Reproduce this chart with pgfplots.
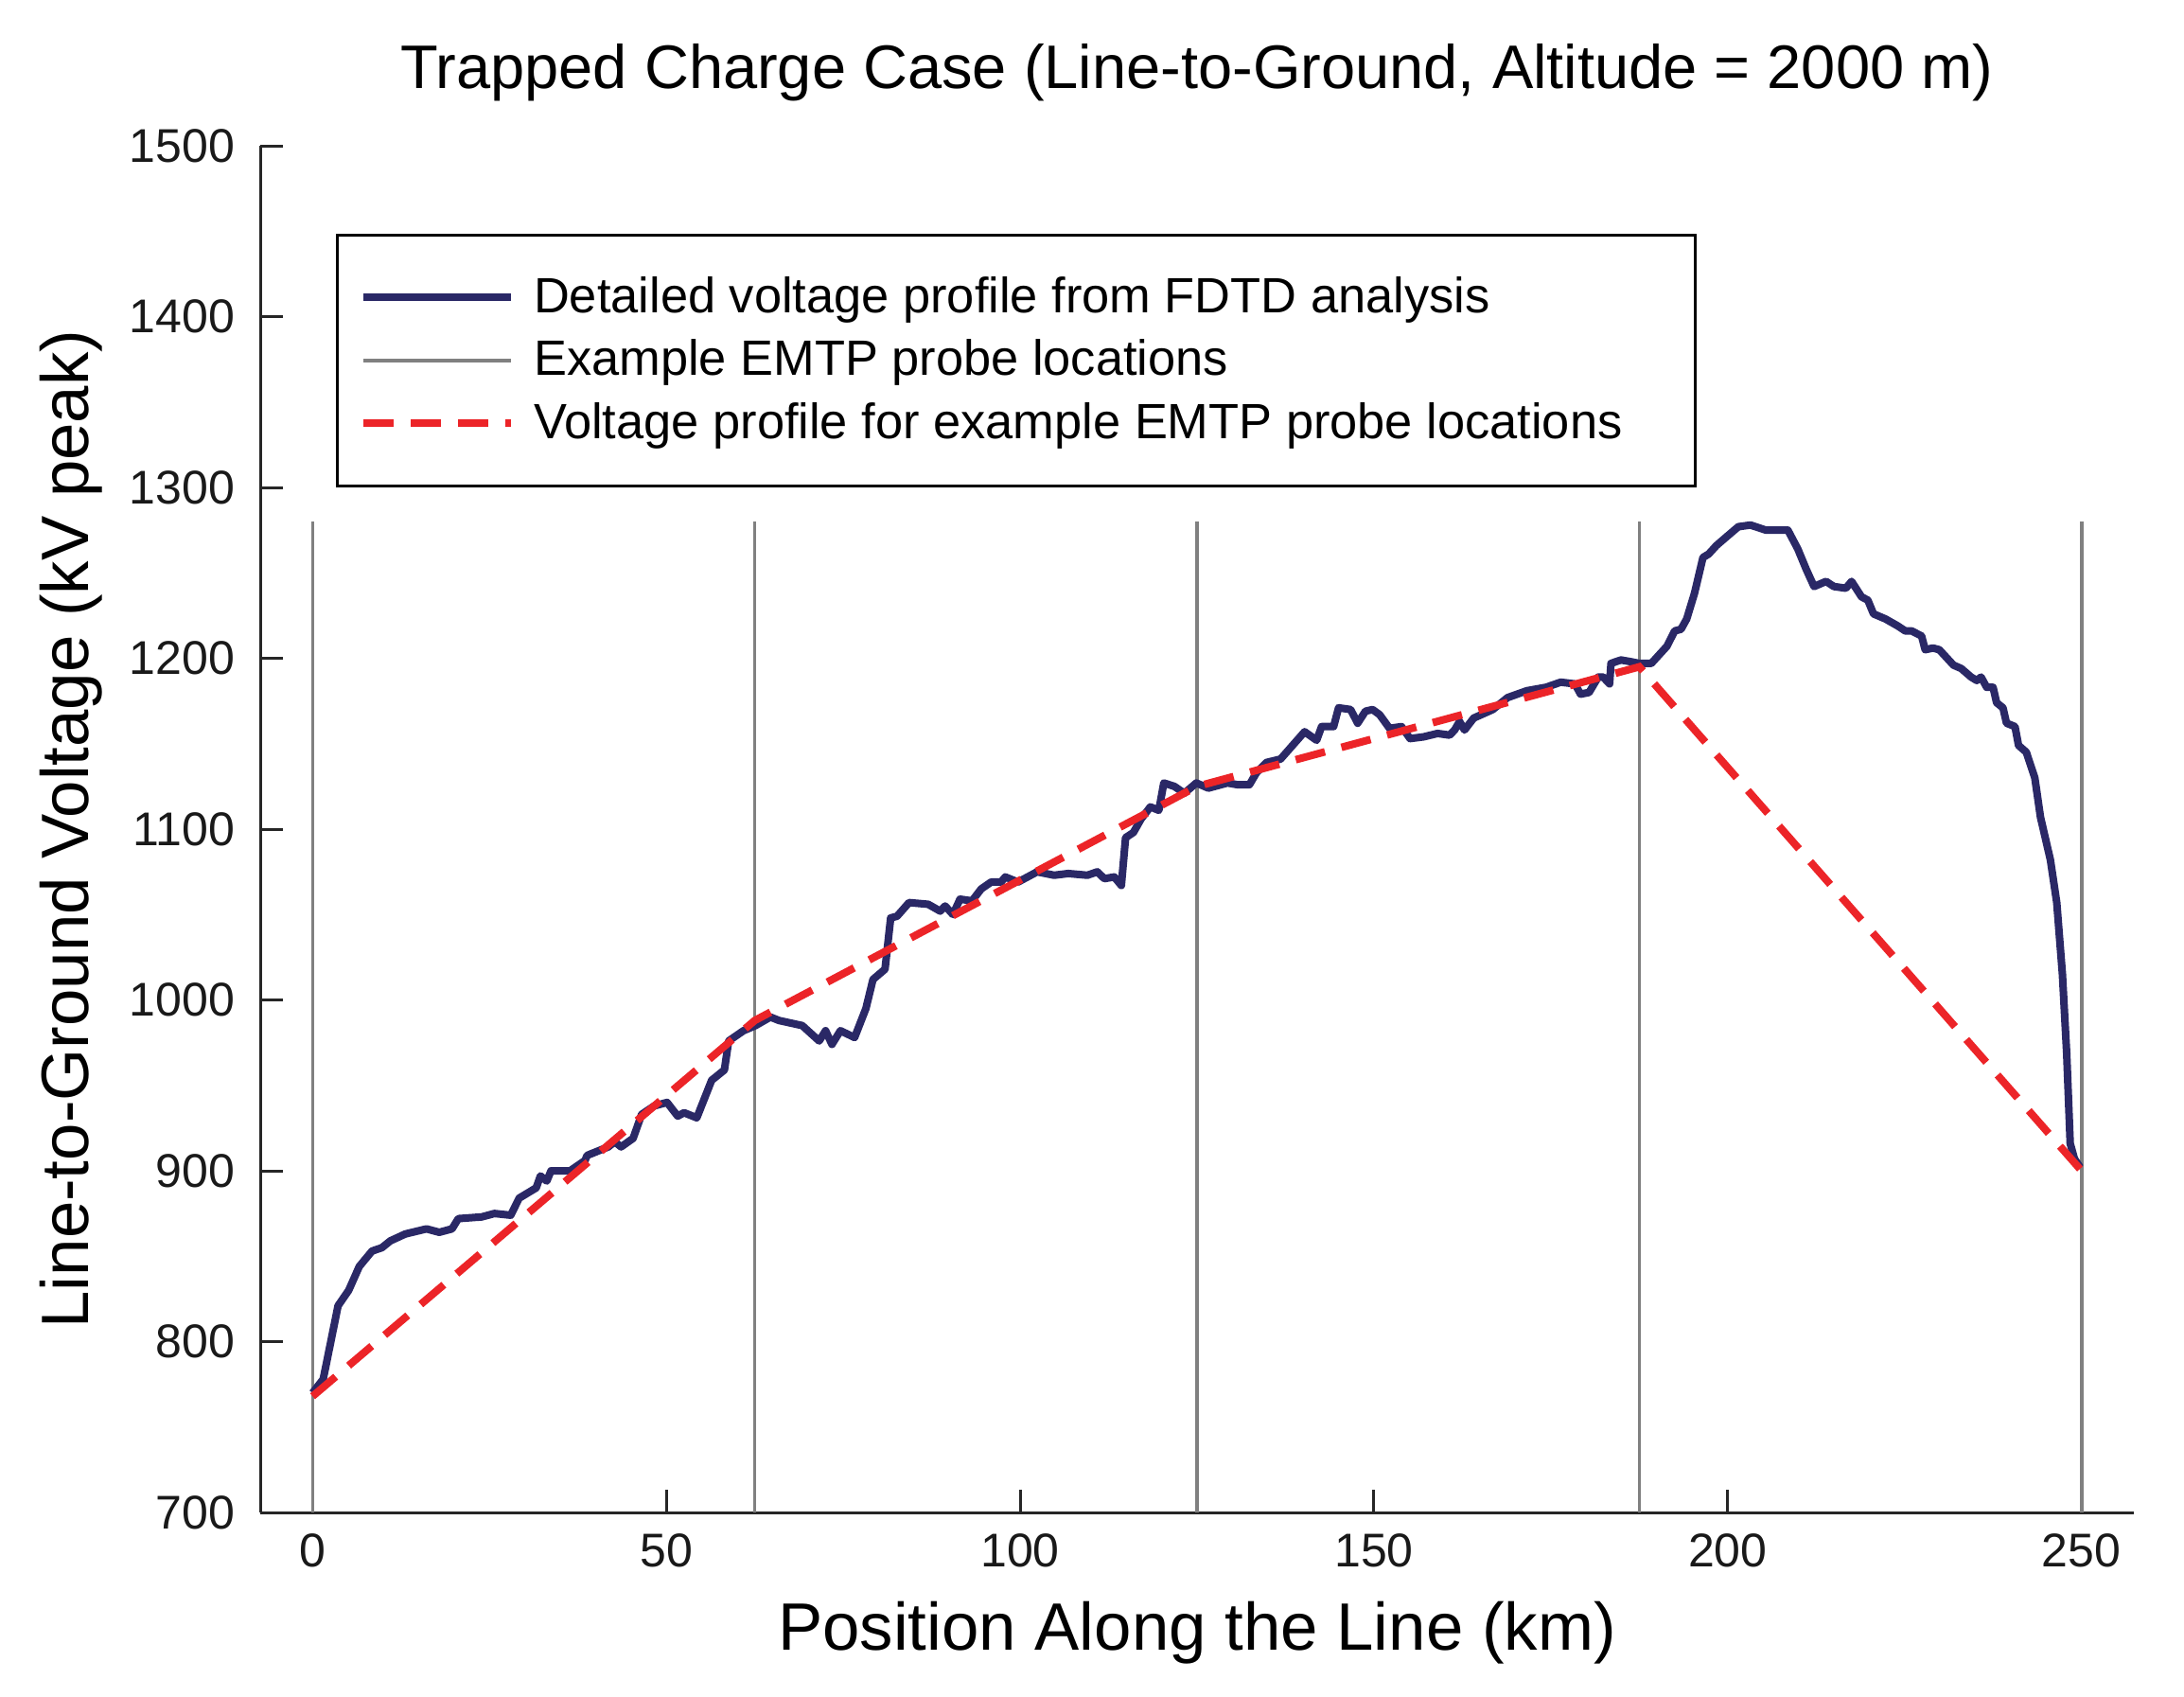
\documentclass[border=0pt]{standalone}
\usepackage{pgfplots}
\pgfplotsset{compat=1.18}
\usepackage{fontspec}
\setmainfont{Liberation Sans}
\definecolor{fdtd}{RGB}{42,40,102}
\definecolor{emtp}{RGB}{236,36,40}
\definecolor{probe}{RGB}{128,128,128}
\begin{document}
\begin{tikzpicture}
\begin{axis}[
  at={(0,0)}, anchor=south west,
  scale only axis, width=495pt, height=361pt,
  xmin=-7.4, xmax=257.4, ymin=700, ymax=1500,
  axis x line=bottom, axis y line=left,
  axis line style={-, line width=0.75pt, black!85},
  tick align=inside, major tick length=6pt,
  tick style={line width=0.75pt, black!85},
  xtick={0,50,...,250}, ytick={700,800,...,1500},
  /pgf/number format/assume math mode=true,
  /pgf/number format/set thousands separator={},
  tick label style={font=\fontsize{12.5}{15}\selectfont, black!90},
  xticklabel style={yshift=-2pt},
  yticklabel style={xshift=-3.25pt},
  title={Trapped Charge Case (Line-to-Ground, Altitude = 2000 m)},
  title style={font=\fontsize{16.25}{19}\selectfont, at={(axis description cs:0.5,1.0255)}, anchor=base},
  xlabel={Position Along the Line (km)},
  ylabel={Line-to-Ground Voltage (kV peak)},
  label style={font=\fontsize{17.7}{21}\selectfont},
  x label style={at={(axis description cs:0.5,-0.1008)}, anchor=base},
  y label style={at={(axis description cs:-0.0919,0.5)}, anchor=base},
  legend style={at={(rel axis cs:0.0402,0.9356)}, anchor=north west,
    draw=black, line width=0.75pt, inner xsep=6pt, inner ysep=9pt,
    font=\fontsize{13.1}{15.5}\selectfont, row sep=1.6pt,
    /tikz/every odd column/.append style={column sep=3pt}},
  legend cell align=left,
  legend image code/.code={\draw[#1] (0pt,0pt) -- (39pt,0pt);},
]
\addlegendimage{fdtd, line width=2pt}
\addlegendentry{Detailed voltage profile from FDTD analysis}
\addlegendimage{probe, line width=0.9pt}
\addlegendentry{Example EMTP probe locations}
\addlegendimage{emtp, line width=2pt, dash pattern=on 8pt off 4.5pt}
\addlegendentry{Voltage profile for example EMTP probe locations\hspace*{11.1pt}\null}

% probe locations
\addplot[forget plot, probe, line width=0.9pt, unbounded coords=jump] coordinates {
  (0,700) (0,1280) (0,nan)
  (62.5,700) (62.5,1280) (62.5,nan)
  (125,700) (125,1280) (125,nan)
  (187.5,700) (187.5,1280) (187.5,nan)
  (250,700) (250,1280)
};

% FDTD profile
\addplot[forget plot, fdtd, line width=2pt, line join=round] coordinates {
(0,770)(1.5,778)(3.6,821)(5.1,830)(6.6,844)(8.4,853)(9.8,855)(11.0,859)(13.1,863)(16.1,866)
(17.9,864)(19.7,866)(20.6,872)(23.9,873)(25.7,875)(28.0,874)(29.2,884)(31.6,890)(32.2,897)(33.1,894)
(33.7,900)(36.4,900)(38.5,906)(38.8,909)(41.8,914)(42.7,917)(43.6,914)(45.3,919)(46.5,933)(48.3,938)
(50.1,940)(51.6,932)(52.5,934)(54.3,931)(56.4,953)(58.2,959)(58.8,976)(60.9,982)(62.6,985)(64.7,990)
(65.9,988)(69.2,985)(71.6,976)(72.5,982)(73.4,974)(74.6,982)(76.6,978)(78.2,995)(79.2,1012)(80.9,1018)
(81.7,1048)(82.6,1049)(84.3,1057)(87.0,1056)(88.7,1052)(89.4,1055)(90.5,1050)(91.5,1059)(93.2,1058)(94.5,1065)
(95.9,1069)(97.3,1069)(97.9,1072)(99.7,1069)(102.4,1075)(104.8,1073)(106.8,1074)(109.5,1073)(110.9,1075)(111.9,1071)
(113.3,1072)(114.3,1067)(114.9,1095)(116.0,1098)(117.1,1106)(118.4,1113)(119.6,1111)(120.3,1127)(121.8,1125)(123.2,1121)
(124.9,1127)(126.6,1124)(129.3,1127)(130.7,1126)(132.4,1126)(133.4,1133)(134.8,1139)(136.8,1141)(138.5,1149)(140.2,1157)
(141.9,1152)(142.6,1160)(144.3,1160)(145.0,1171)(146.7,1170)(147.7,1162)(148.8,1169)(149.8,1170)(150.8,1167)(152.2,1159)
(153.9,1160)(155.1,1153)(157.0,1154)(159.0,1156)(160.7,1155)(161.4,1158)(162.1,1163)(162.8,1158)(164.1,1165)(166.8,1170)
(168.9,1177)(171.6,1181)(174.3,1183)(176.4,1186)(178.4,1185)(179.2,1179)(180.4,1180)(181.7,1189)(182.4,1189)(183.3,1185)
(183.5,1197)(184.9,1199)(186.3,1198)(187.5,1197)(189.2,1197)(190.3,1202)(191.4,1207)(192.5,1216)(193.4,1217)(194.2,1223)
(195.3,1238)(196.5,1259)(197.3,1261)(198.4,1266)(199.8,1271)(201.5,1277)(203.2,1278)(205.4,1275)(208.5,1275)(209.9,1264)
(211.1,1252)(212.2,1242)(213.9,1245)(215.0,1242)(216.7,1241)(217.5,1245)(218.9,1236)(219.8,1234)(220.6,1226)(222.3,1223)
(224.0,1219)(225.1,1216)(226.0,1216)(227.4,1213)(227.9,1205)(229.0,1206)(229.9,1205)(231.9,1196)(233.0,1194)(234.4,1189)
(235.2,1187)(235.8,1189)(236.6,1183)(237.5,1183)(238.0,1174)(238.9,1171)(239.4,1162)(240.6,1160)(241.1,1149)(242.2,1145)
(243.4,1130)(244.2,1107)(245.6,1082)(246.5,1057)(247.3,1015)(247.9,969)(248.4,916)(249.0,907)(249.8,902)
};

% EMTP probe profile
\addplot[forget plot, emtp, line width=2pt, dash pattern=on 8pt off 4.5pt] coordinates {
  (0,768) (62.5,988) (125,1125) (187.5,1195) (250,900)
};
\end{axis}
\pgfresetboundingbox
\path[use as bounding box] (-68.75pt,-48.5pt) rectangle (508.25pt,399.5pt);
\end{tikzpicture}
\end{document}
